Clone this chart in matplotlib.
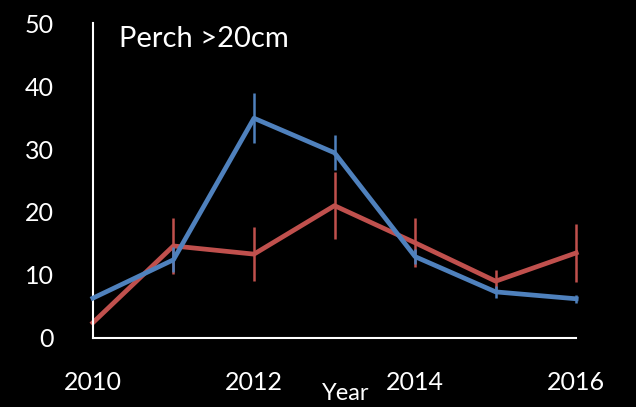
import matplotlib.pyplot as plt

years = [2010, 2011, 2012, 2013, 2014, 2015, 2016]
blue_vals = [6.3, 12.4, 34.9, 29.4, 12.9, 7.3, 6.2]
blue_err = [0.0, 2.0, 4.0, 2.8, 1.2, 1.0, 0.6]
red_vals = [2.4, 14.6, 13.3, 21.0, 15.1, 9.0, 13.5]
red_err = [0.0, 4.4, 4.3, 5.3, 3.9, 1.8, 4.6]
xticks = [2010, 2012, 2014, 2016]
yticks = [0, 10, 20, 30, 40, 50]

plt.rcParams['font.family'] = ['Lato', 'DejaVu Sans']

fig = plt.figure(figsize=(6.36, 4.07), dpi=100, facecolor='black')
ax = fig.add_axes([0.146, 0.170, 0.760, 0.773])
ax.set_facecolor('black')

for vals, err, col, z in [(red_vals, red_err, '#C0504D', 2),
                          (blue_vals, blue_err, '#4F81BD', 3)]:
    line, caps, bars = ax.errorbar(years, vals, yerr=err, color=col, lw=3.4,
                                   elinewidth=1.8, capsize=0, zorder=z)
    line.set_clip_on(False)
    for b in bars:
        b.set_clip_on(False)

ax.set_xlim(2010, 2016)
ax.set_ylim(0, 50)
ax.set_xticks(xticks)
ax.set_yticks(yticks)
ax.tick_params(colors='white', labelsize=18, length=0)
ax.tick_params(axis='y', pad=28)
ax.tick_params(axis='x', pad=24)
for side in ['top', 'right']:
    ax.spines[side].set_visible(False)
for side in ['left', 'bottom']:
    ax.spines[side].set_color('white')
    ax.spines[side].set_linewidth(1.5)

ax.text(0.055, 0.99, 'Perch >20cm', transform=ax.transAxes, color='white',
        fontsize=21, va='top', ha='left')
fig.text(346 / 636, 1 - 394 / 407, 'Year', color='white', fontsize=17,
         ha='center', va='center')

fig.savefig('out.png', dpi=100, facecolor='black')
